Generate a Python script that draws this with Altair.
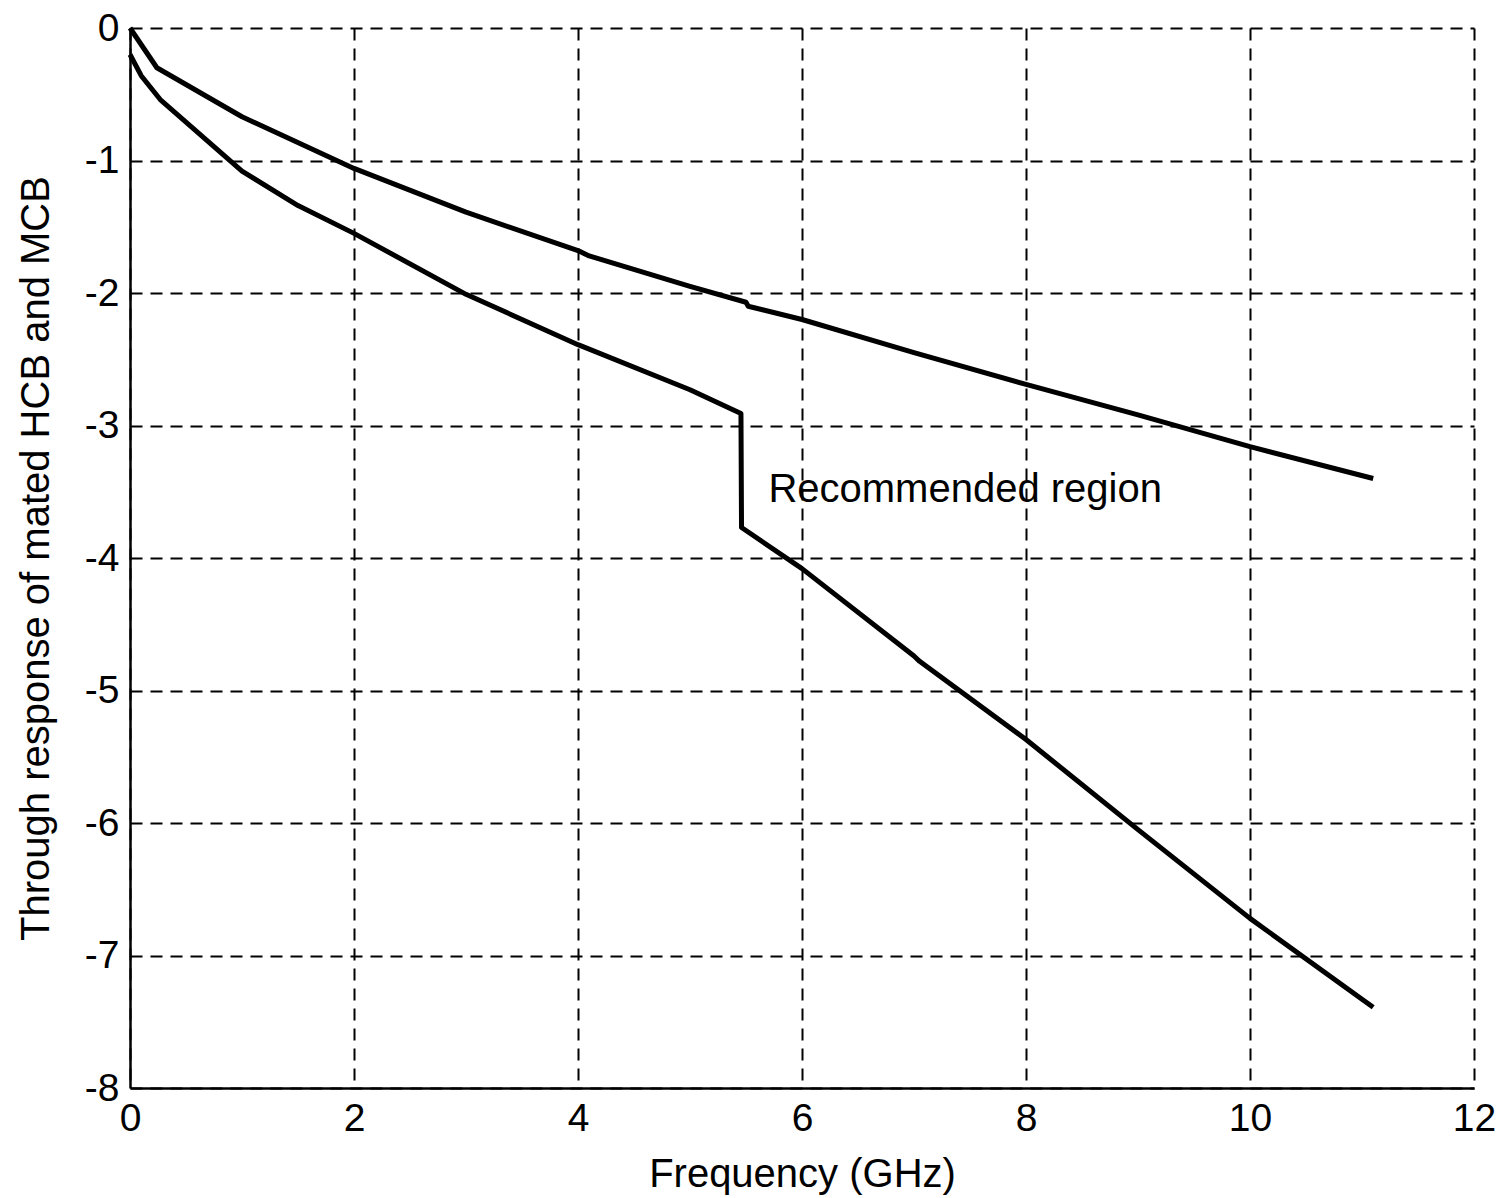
import altair as alt
import pandas as pd

# Upper curve
upper_x = [0, 0.24, 1, 2, 3, 4, 4.1, 5, 5.5, 5.52, 6, 7, 8, 9, 10, 11.1]
upper_y = [0, -0.30, -0.67, -1.06, -1.39, -1.68, -1.72, -1.95, -2.07, -2.10, -2.20, -2.45, -2.69, -2.92, -3.16, -3.40]

# Lower curve
lower_x = [0, 0.1, 0.27, 1, 1.5, 2, 3, 4, 5, 5.455, 5.46, 6, 7, 7.05, 8, 9, 10, 11, 11.1]
lower_y = [-0.2, -0.36, -0.54, -1.08, -1.34, -1.55, -2.01, -2.39, -2.73, -2.91, -3.77, -4.08, -4.74, -4.78, -5.37, -6.05, -6.72, -7.33, -7.39]

x_ticks = [0, 2, 4, 6, 8, 10, 12]
y_ticks = [0, -1, -2, -3, -4, -5, -6, -7, -8]

label_text = ["Recommended region"]
label_x = [5.7]
label_y = [-3.49]

rows = []
for i, (x, y) in enumerate(zip(upper_x, upper_y)):
    rows.append({"f": x, "r": y, "series": "upper", "i": i})
for i, (x, y) in enumerate(zip(lower_x, lower_y)):
    rows.append({"f": x, "r": y, "series": "lower", "i": i})
df = pd.DataFrame(rows)

lab = pd.DataFrame({"f": label_x, "r": label_y, "t": label_text})

FONT = "Liberation Sans"

xscale = alt.Scale(domain=[0, 12], nice=False, zero=False)
yscale = alt.Scale(domain=[-8, 0], nice=False, zero=False)

lines = alt.Chart(df).mark_line(color="black", strokeWidth=5, strokeJoin="round").encode(
    x=alt.X("f:Q", scale=xscale,
            axis=alt.Axis(values=x_ticks, title="Frequency (GHz)", labelExpr="'' + datum.value",
                          labelPadding=11, titlePadding=16, labelFlush=False)),
    y=alt.Y("r:Q", scale=yscale,
            axis=alt.Axis(values=y_ticks, title="Through response of mated HCB and MCB",
                          labelExpr="'' + datum.value", labelPadding=11, titlePadding=28,
                          labelFlush=False)),
    detail="series:N",
    order="i:Q",
)

text = alt.Chart(lab).mark_text(align="left", baseline="middle", font=FONT, fontSize=40,
                                color="black").encode(
    x=alt.X("f:Q", scale=xscale),
    y=alt.Y("r:Q", scale=yscale),
    text="t:N",
)

chart = alt.layer(lines, text).properties(
    width=1344, height=1060,
    autosize=alt.AutoSizeParams(type="none"),
    padding={"left": 130, "top": 28, "right": 29, "bottom": 110},
).configure_view(stroke=None).configure_axis(
    domainColor="black", domainWidth=2.5,
    grid=True, gridColor="black", gridDash=[12, 8], gridWidth=2, gridOpacity=1,
    ticks=False,
    labelFont=FONT, labelFontSize=39, labelColor="black",
    titleFont=FONT, titleFontSize=40, titleColor="black", titleFontWeight="normal",
)

chart.save("out.html", embed_options={"renderer": "svg", "actions": False})
